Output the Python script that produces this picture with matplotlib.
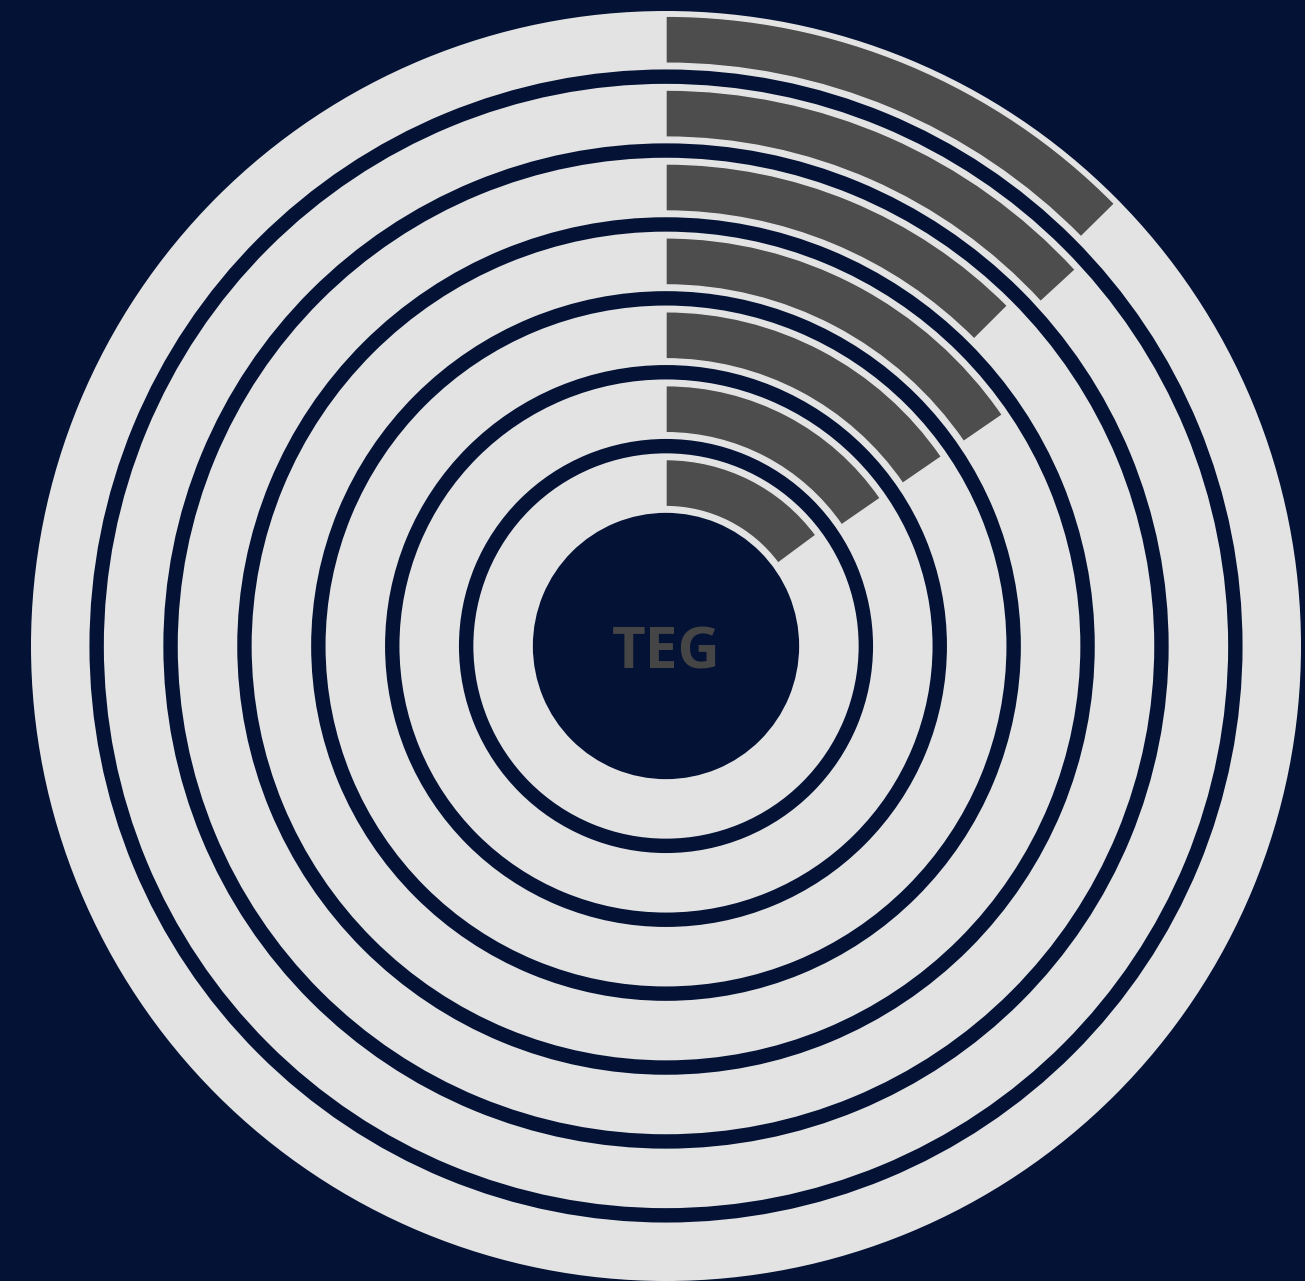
import numpy as np
import matplotlib.pyplot as plt

# Data: one ring per item, outer ring first; bar sweep in degrees (clockwise from 12 o'clock)
rings = ['r1', 'r2', 'r3', 'r4', 'r5', 'r6', 'r7']
sweep_deg = [45.4, 47.4, 45.1, 55.5, 55.5, 55.4, 53.5]
center_label = 'TEG'

navy = '#041236'
track_col = '#E3E3E3'
bar_col = '#4D4D4D'

W, H = 1305, 1281
fig = plt.figure(figsize=(W / 100, H / 100), dpi=100, facecolor=navy)
ax = fig.add_axes([31 / W, 0, 1270 / W, 1270 / H], projection='polar')
ax.set_facecolor(navy)
ax.set_theta_zero_location('N')
ax.set_theta_direction(-1)

r_outer = 635
pitch = 73.9
track_w = 59.5
bar_w = 47

centers = [606.3 - pitch * i for i in range(len(rings))]

for rc, deg in zip(centers, sweep_deg):
    # full background track
    ax.bar(0, track_w, width=2 * np.pi, bottom=rc - track_w / 2,
           color=track_col, edgecolor='none', align='center')
    # value bar
    ax.bar(0, bar_w, width=np.radians(deg), bottom=rc - bar_w / 2,
           color=bar_col, edgecolor=track_col, linewidth=1, align='edge')

ax.annotate(center_label, xy=(0, 0), xytext=(0, -5.5), textcoords='offset points',
            ha='center', va='center', fontsize=42, fontweight='bold',
            color='#454545', family=['Open Sans', 'DejaVu Sans'])

ax.set_ylim(0, r_outer)
ax.axis('off')

fig.savefig('out.png', dpi=100, facecolor=navy)
